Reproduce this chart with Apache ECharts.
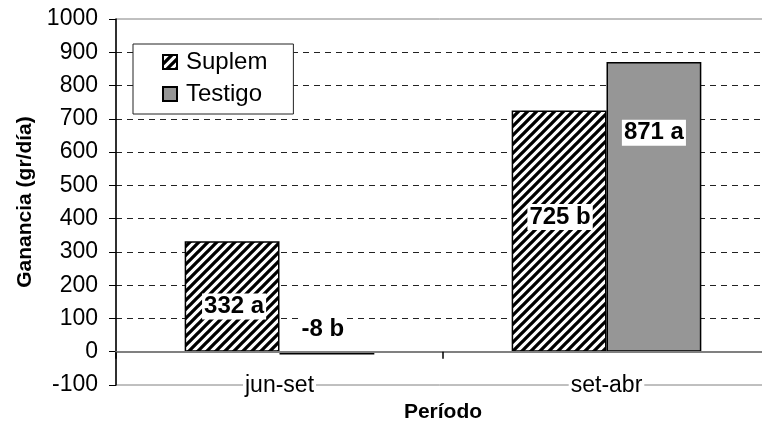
<!DOCTYPE html>
<html>
<head>
<meta charset="utf-8">
<script src="https://cdn.jsdelivr.net/npm/echarts@6/dist/echarts.min.js"></script>
<style>
    html, body { margin: 0; padding: 0; background: #fff; }
    #chartsdiv { width: 762px; height: 421px; }
</style>
</head>
<body>
<div id="chartsdiv"></div>
<script>
// 数据
var periodos = ['jun-set', 'set-abr'];
var suplem = [332, 725];
var testigo = [-8, 871];
var letrasSuplem = ['a', 'b'];
var letrasTestigo = ['b', 'a'];
var yTicks = [-100, 0, 100, 200, 300, 400, 500, 600, 700, 800, 900, 1000];

// 标签偏移（样式）
var offSuplem = [[2, 10], [1, -14]];
var offTestigo = [[-4, -24], [0, -74]];

// 斜线填充
function hatch() {
    var s = 9;
    var c = document.createElement('canvas');
    c.width = s;
    c.height = s;
    var ctx = c.getContext('2d');
    ctx.fillStyle = '#fff';
    ctx.fillRect(0, 0, s, s);
    ctx.strokeStyle = '#000';
    ctx.lineWidth = 3.3;
    ctx.beginPath();
    ctx.moveTo(-2, 2); ctx.lineTo(2, -2);
    ctx.moveTo(0, s); ctx.lineTo(s, 0);
    ctx.moveTo(s - 2, s + 2); ctx.lineTo(s + 2, s - 2);
    ctx.stroke();
    return c;
}

function labelItems(values, letras, offs) {
    var list = [];
    for (var i = 0; i < values.length; i++) {
        list.push({
            value: values[i],
            label: {
                show: true,
                position: 'inside',
                offset: offs[i],
                formatter: values[i] + ' ' + letras[i],
                color: '#000',
                fontFamily: 'Liberation Sans',
                fontWeight: 'bold',
                fontSize: 24,
                backgroundColor: '#fff',
                padding: [1, 2]
            }
        });
    }
    return list;
}

var myChart = echarts.init(document.getElementById('chartsdiv'));
var option = {
    animation: false,
    textStyle: { fontFamily: 'Liberation Sans' },
    grid: {
        left: 116, right: -8, top: 19, bottom: 36,
        outerBoundsMode: 'none',
        containLabel: false,
        show: true, borderColor: '#808080', borderWidth: 1
    },
    legend: {
        orient: 'vertical',
        left: 133, top: 44,
        backgroundColor: '#fff',
        borderColor: '#222', borderWidth: 1,
        padding: [6, 26, 8, 29],
        itemGap: 8,
        itemWidth: 14, itemHeight: 14,
        icon: 'rect',
        textStyle: { fontSize: 24, color: '#000', lineHeight: 24, padding: [0, 0, 0, 4] },
        data: ['Suplem', 'Testigo']
    },
    xAxis: {
        type: 'category',
        data: periodos,
        z: 5,
        name: 'Período',
        nameLocation: 'middle',
        nameGap: 16,
        nameTextStyle: { fontSize: 21, fontWeight: 'bold', color: '#000' },
        axisLine: { onZero: true, lineStyle: { color: '#808080', width: 2 } },
        axisTick: { show: true, length: 7, interval: 0, lineStyle: { color: '#000', width: 1.5 } },
        axisLabel: {
            fontSize: 23, color: '#000', margin: -11,
            backgroundColor: '#fff', padding: [0, 2]
        }
    },
    yAxis: {
        type: 'value',
        min: -100, max: 1000, interval: 100,
        name: 'Ganancia (gr/día)',
        nameLocation: 'middle',
        nameGap: 80,
        nameTextStyle: { fontSize: 21, fontWeight: 'bold', color: '#000' },
        axisLine: { show: true, lineStyle: { color: '#000', width: 1.5 } },
        axisTick: { show: true, length: 7, lineStyle: { color: '#000', width: 1 } },
        axisLabel: {
            fontSize: 23, color: '#000', margin: 18,
            formatter: function (v) { return yTicks.indexOf(v) >= 0 ? String(v) : ''; }
        },
        splitLine: {
            show: true, showMinLine: false, showMaxLine: false,
            lineStyle: { color: '#222', type: [6, 5], width: 1 }
        }
    },
    series: [
        {
            name: 'Suplem',
            type: 'bar',
            barWidth: '29%',
            barGap: '0%',
            itemStyle: {
                color: { image: hatch(), repeat: 'repeat' },
                borderColor: '#000', borderWidth: 1.5
            },
            data: labelItems(suplem, letrasSuplem, offSuplem)
        },
        {
            name: 'Testigo',
            type: 'bar',
            barWidth: '29%',
            itemStyle: { color: '#969696', borderColor: '#000', borderWidth: 1.5 },
            data: labelItems(testigo, letrasTestigo, offTestigo)
        }
    ]
};
myChart.setOption(option);
</script>
</body>
</html>
